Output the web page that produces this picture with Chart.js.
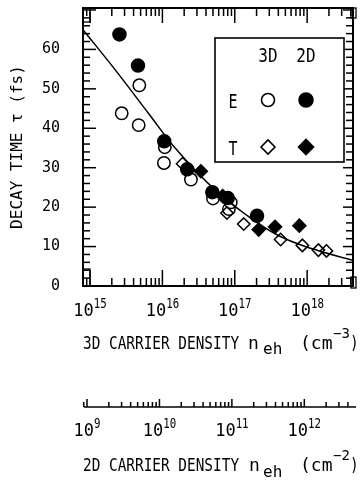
<!DOCTYPE html>
<html>
<head>
<meta charset="utf-8">
<script src="https://cdn.jsdelivr.net/npm/chart.js@4/dist/chart.umd.min.js"></script>
<style>
  html, body { margin: 0; padding: 0; background: #fff; }
  canvas { display: block; }
</style>
</head>
<body>
<canvas id="c" width="361" height="487"></canvas>
<script>
// ---------------- data ----------------
// fitted curve
const curveDensity = [8e14, 2.3e15, 6.6e15, 1.5e16, 4.9e16, 1.4e17, 4.0e17, 1.15e18, 4.3e18];
const curveTau     = [65,   54.5,   43.5,   35.0,   25,     18.2,   12.8,   9.5,     6.5];

// E, 3D  (open circles)
const e3dDensity = [2.74e15, 4.7e15, 4.8e15, 1.08e16, 1.05e16, 2.48e16, 5.0e16, 8.8e16, 8.3e16];
const e3dTau     = [43.8,    40.8,   50.9,   35.2,    31.2,    27.0,    22.2,   21.2,   19.5];

// E, 2D  (filled circles)
const e2dDensity = [2.55e15, 4.6e15, 1.06e16, 2.2e16, 4.9e16, 8.0e16, 2.03e17];
const e2dTau     = [63.8,    55.9,   36.7,    29.6,   23.8,   22.3,   17.8];

// T, 3D  (open diamonds)
const t3dDensity = [1.9e16, 7.8e16, 1.33e17, 4.3e17, 8.6e17, 1.43e18, 1.85e18];
const t3dTau     = [31.0,   18.5,   15.7,    11.8,   10.3,   9.1,     8.9];

// T, 2D  (filled diamonds)
const t2dDensity = [3.4e16, 6.8e16, 2.14e17, 3.6e17, 7.8e17];
const t2dTau     = [29.1,   22.8,   14.3,    15.0,   15.3];

// axes
const x3dRange = [8e14, 4.3e18];
const x2dRange = [8.8e8, 4.7e12];
const yRange   = [0, 70.5];
const x3dLabelPowers = [15, 16, 17, 18];
const x2dLabelPowers = [9, 10, 11, 12];
const yTickLabels = [0, 10, 20, 30, 40, 50, 60];

const yTitle = 'DECAY TIME \u03C4 (fs)';
const legendCols = ['3D', '2D'];
const legendRows = ['E', 'T'];

// ---------------- helpers ----------------
const MONO = '"DejaVu Sans Mono", monospace';
const pts = (xs, ys) => xs.map((x, i) => ({ x: x, y: ys[i] }));

function drawText(ctx, s, x, y, size, sx, align) {
  ctx.save();
  ctx.font = size + 'px ' + MONO;
  ctx.fillStyle = '#000';
  ctx.textBaseline = 'alphabetic';
  ctx.textAlign = 'left';
  const w = ctx.measureText(s).width * sx;
  let x0 = x;
  if (align === 'center') x0 = x - w / 2;
  else if (align === 'right') x0 = x - w;
  ctx.translate(x0, y);
  ctx.scale(sx, 1);
  ctx.fillText(s, 0, 0);
  ctx.restore();
  return w;
}
function textWidth(ctx, s, size, sx) {
  ctx.save(); ctx.font = size + 'px ' + MONO;
  const w = ctx.measureText(s).width * sx; ctx.restore(); return w;
}
function drawPow(ctx, exp, cx, baseY) {
  const wb = textWidth(ctx, '10', 17, 1);
  const ws = textWidth(ctx, String(exp), 14, 0.77);
  const x0 = cx - (wb + ws) / 2;
  drawText(ctx, '10', x0, baseY, 17, 1);
  drawText(ctx, String(exp), x0 + wb, baseY - 8, 14, 0.77);
}
function logTicks(min, max) {
  const out = [];
  for (let d = Math.floor(Math.log10(min)); d <= Math.ceil(Math.log10(max)); d++) {
    for (let m = 1; m <= 9; m++) {
      const v = m * Math.pow(10, d);
      if (v >= min * 0.999 && v <= max * 1.001) out.push({ v: v, major: m === 1 });
    }
  }
  return out;
}
function line(ctx, x1, y1, x2, y2) {
  ctx.beginPath(); ctx.moveTo(x1, y1); ctx.lineTo(x2, y2); ctx.stroke();
}

// ---------------- plugin: frame, ticks, bottom axes, legend ----------------
const framePlugin = {
  id: 'frame',
  beforeDatasetsDraw(chart) {
    const ctx = chart.ctx, a = chart.chartArea;
    const xs = chart.scales.x, ys = chart.scales.y;
    ctx.save();
    ctx.strokeStyle = '#000';
    ctx.lineWidth = 1.5;
    // x ticks bottom & top (inward)
    logTicks(x3dRange[0], x3dRange[1]).forEach(t => {
      const px = xs.getPixelForValue(t.v);
      line(ctx, px, a.bottom, px, a.bottom - (t.major ? 16 : 8));
      line(ctx, px, a.top, px, a.top + (t.major ? 15 : 8));
    });
    // y ticks left & right (inward)
    for (let v = 0; v <= 70; v += 2) {
      const py = ys.getPixelForValue(v);
      const major = v % 10 === 0;
      line(ctx, a.left, py, a.left + (major ? 13 : 7), py);
      line(ctx, a.right, py, a.right - (major ? 10 : 7), py);
    }
    // corner marks
    ctx.lineWidth = 1.3;
    ctx.strokeRect(a.left, a.bottom - 17, 7, 17);
    ctx.strokeRect(a.left, a.top, 7, 14);
    ctx.strokeRect(a.right - 2, a.bottom - 9, 5, 11);
    ctx.strokeRect(a.right - 2, a.top, 5, 10);
    // frame
    ctx.lineWidth = 2;
    ctx.strokeRect(a.left, a.top, a.right - a.left, a.bottom - a.top);
    ctx.restore();
  },
  afterDraw(chart) {
    const ctx = chart.ctx, a = chart.chartArea;
    const xs = chart.scales.x, x2 = chart.scales.x2;
    ctx.save();
    ctx.strokeStyle = '#000';
    ctx.fillStyle = '#000';

    // 3D tick labels
    x3dLabelPowers.forEach(p => drawPow(ctx, p, xs.getPixelForValue(Math.pow(10, p)), a.bottom + 30));

    // 3D axis title
    const b1 = a.bottom + 63;
    drawText(ctx, '3D CARRIER DENSITY', a.left, b1, 18, 0.8);
    drawText(ctx, 'n', a.left + 165, b1, 18, 1);
    drawText(ctx, 'eh', a.left + 180, b1 + 5, 16, 1);
    drawText(ctx, '(cm', a.left + 217, b1, 18, 1);
    drawText(ctx, '\u22123', a.left + 250, b1 - 11, 14, 1);
    drawText(ctx, ')', a.left + 267, b1, 18, 0.8);

    // 2D axis (secondary scale)
    const ly = a.bottom + 121;
    ctx.lineWidth = 1.5;
    line(ctx, a.left + 1, ly, a.right + 3, ly);
    logTicks(x2dRange[0], x2dRange[1]).forEach(t => {
      const px = x2.getPixelForValue(t.v);
      line(ctx, px, ly, px, ly - (t.major ? 8 : 5));
    });
    x2dLabelPowers.forEach(p => drawPow(ctx, p, x2.getPixelForValue(Math.pow(10, p)), ly + 29));

    // 2D axis title
    const b2 = a.bottom + 185;
    drawText(ctx, '2D CARRIER DENSITY', a.left, b2, 18, 0.8);
    drawText(ctx, 'n', a.left + 166, b2, 18, 1);
    drawText(ctx, 'eh', a.left + 180, b2 + 6, 16, 1);
    drawText(ctx, '(cm', a.left + 217, b2, 18, 1);
    drawText(ctx, '\u22122', a.left + 250, b2 - 11, 14, 1);
    drawText(ctx, ')', a.left + 267, b2, 18, 0.8);

    // legend box
    const L = { x: 215, y: 38, w: 129, h: 124 };
    ctx.fillStyle = '#fff';
    ctx.fillRect(L.x, L.y, L.w, L.h);
    ctx.lineWidth = 1.6;
    ctx.strokeRect(L.x, L.y, L.w, L.h);
    const colX = [268, 306];
    const rowY = [100, 147];
    legendCols.forEach((s, i) => drawText(ctx, s, colX[i], 62, 20, 0.8, 'center'));
    legendRows.forEach((s, i) => drawText(ctx, s, 233, rowY[i] + 8, 20, 0.75, 'center'));
    const styles = [
      [{ pointStyle: 'circle', radius: 6.5, fill: '#fff' }, { pointStyle: 'circle', radius: 7, fill: '#000' }],
      [{ pointStyle: 'rectRot', radius: 7, fill: '#fff' }, { pointStyle: 'rectRot', radius: 7.5, fill: '#000' }]
    ];
    ctx.lineWidth = 1.6;
    for (let r = 0; r < 2; r++) for (let c = 0; c < 2; c++) {
      const st = styles[r][c];
      ctx.fillStyle = st.fill;
      ctx.strokeStyle = '#000';
      Chart.helpers.drawPoint(ctx, { pointStyle: st.pointStyle, radius: st.radius, rotation: 0, borderWidth: 1.6 }, colX[c], rowY[r]);
    }
    ctx.restore();
  }
};

// ---------------- chart ----------------
const base = { borderColor: '#000', borderWidth: 1.5, showLine: false };
new Chart(document.getElementById('c'), {
  type: 'scatter',
  data: {
    datasets: [
      Object.assign({ label: 'E 2D', data: pts(e2dDensity, e2dTau), pointStyle: 'circle', pointRadius: 6.5, backgroundColor: '#000' }, base),
      Object.assign({ label: 'T 2D', data: pts(t2dDensity, t2dTau), pointStyle: 'rectRot', pointRadius: 6.5, backgroundColor: '#000' }, base),
      Object.assign({ label: 'E 3D', data: pts(e3dDensity, e3dTau), pointStyle: 'circle', pointRadius: 6.2, backgroundColor: 'rgba(255,255,255,0)' }, base),
      Object.assign({ label: 'T 3D', data: pts(t3dDensity, t3dTau), pointStyle: 'rectRot', pointRadius: 6.2, backgroundColor: 'rgba(255,255,255,0)' }, base),
      { label: 'fit', data: pts(curveDensity, curveTau), showLine: true, borderColor: '#000', borderWidth: 1.5,
        pointRadius: 0, tension: 0.4, fill: false }
    ]
  },
  options: {
    responsive: false,
    animation: false,
    devicePixelRatio: 1,
    layout: { padding: { top: 5, right: 6, bottom: 201, left: 0 } },
    plugins: { legend: { display: false }, tooltip: { enabled: false } },
    scales: {
      x: { type: 'logarithmic', position: 'bottom', min: x3dRange[0], max: x3dRange[1], display: false },
      x2: { type: 'logarithmic', position: 'bottom', min: x2dRange[0], max: x2dRange[1], display: false },
      y: {
        type: 'linear', min: yRange[0], max: yRange[1],
        afterFit(s) { s.width = 83; s.paddingTop = 0; s.paddingBottom = 0; },
        grid: { display: false },
        border: { display: false },
        ticks: {
          stepSize: 10, padding: 15, color: '#000', font: { family: 'DejaVu Sans Mono', size: 15 },
          callback: v => yTickLabels.includes(v) ? String(v) : ''
        },
        title: { display: true, text: yTitle, color: '#000', font: { family: 'DejaVu Sans Mono', size: 16 }, padding: { top: 8, bottom: 0 } }
      }
    }
  },
  plugins: [framePlugin]
});
</script>
</body>
</html>
